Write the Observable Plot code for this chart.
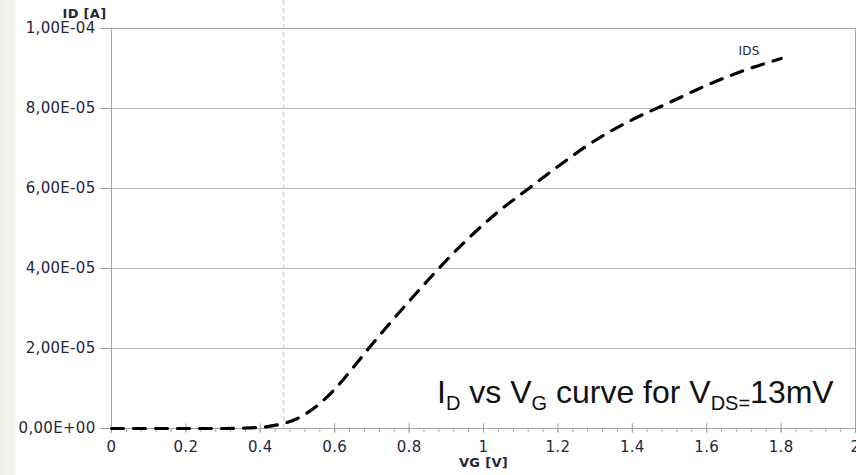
<!DOCTYPE html>
<html><head><meta charset="utf-8">
<script src="https://cdn.jsdelivr.net/npm/d3@7"></script>
<script src="https://cdn.jsdelivr.net/npm/@observablehq/plot@0.6"></script>
<style>
html,body{margin:0;padding:0;}
body{width:856px;height:475px;overflow:hidden;position:relative;background:linear-gradient(to right,#eef1e3 0px,#f5f7ef 15px,#ffffff 16px);}
#chart{position:absolute;left:0;top:0;}
</style></head><body><div id="chart"></div>
<script>
// Gate voltage VG [V]
const vg = [0, 0.1, 0.2, 0.3, 0.35, 0.4, 0.45, 0.5, 0.55, 0.6, 0.65, 0.7, 0.75, 0.8, 0.85, 0.9, 0.95, 1.0, 1.05, 1.1, 1.15, 1.2, 1.3, 1.4, 1.5, 1.6, 1.7, 1.8];
// Drain current ID [A]
const ids = [0, 0, 0, 0, 0.1e-6, 0.3e-6, 1.0e-6, 2.5e-6, 5.5e-6, 9.8e-6, 15.3e-6, 21.0e-6, 26.5e-6, 31.8e-6, 37.0e-6, 42.0e-6, 46.7e-6, 51.0e-6, 55.0e-6, 58.5e-6, 62.0e-6, 65.5e-6, 72.0e-6, 77.2e-6, 81.5e-6, 85.8e-6, 89.5e-6, 92.5e-6];
const seriesName = "IDS";
const thresholdV = 0.463;
const xMajorTicks = [0, 0.2, 0.4, 0.6, 0.8, 1, 1.2, 1.4, 1.6, 1.8, 2];
const xMinorTicks = d3.range(0, 51).map(k => k * 0.04);
const yTicks = [0, 2e-5, 4e-5, 6e-5, 8e-5, 1e-4];
const xTitle = "VG [V]";
const yTitle = "ID [A]";

const data = vg.map((v, k) => ({v, i: ids[k]}));
const fmtY = d => {
  const s = d.toExponential(2).replace(".", ",");
  return s.replace(/e([+-])(\d+)$/, (m, sg, n) => "E" + sg + n.padStart(2, "0"));
};
const textColor = "#1f2738";

const chart = Plot.plot({
  width: 856, height: 475,
  marginLeft: 111, marginRight: 1, marginTop: 28, marginBottom: 47,
  style: "background:transparent;font-family:'DejaVu Sans';letter-spacing:0.3px;color:" + textColor + ";",
  x: {domain: [0, 2]},
  y: {domain: [0, 1e-4]},
  marks: [
    Plot.gridY(yTicks, {stroke: "#b4b4b4", strokeOpacity: 1}),
    Plot.frame({stroke: "#a6a6a6"}),
    Plot.ruleX([thresholdV], {stroke: "#c6c6c6", strokeDasharray: "5,3", insetTop: -28}),
    Plot.axisY(yTicks, {tickSize: 11, tickPadding: 5, tickFormat: fmtY, stroke: "#a0a0a0", fill: textColor, fontSize: 15, label: null}),
    Plot.axisX(xMinorTicks, {tickSize: 4, tickFormat: () => "", stroke: "#a8a8a8", label: null}),
    Plot.axisX(xMajorTicks, {tickSize: 5, dy: -5, tickFormat: () => "", stroke: "#a0a0a0", label: null}),
    Plot.axisX(xMajorTicks, {tickSize: 5, tickPadding: 8, tickFormat: d => String(d), stroke: "#a0a0a0", fill: textColor, fontSize: 15, label: null}),
    Plot.text([yTitle], {text: d => d, frameAnchor: "top-left", dx: -49, dy: -20, fontWeight: "bold", fontSize: 13, fill: textColor}),
    Plot.text([xTitle], {text: d => d, frameAnchor: "bottom", dy: 38, fontWeight: "bold", fontSize: 13, fill: textColor}),
    Plot.line(data, {x: "v", y: "i", stroke: "black", strokeWidth: 3.2, strokeDasharray: "12,10", curve: "monotone-x"}),
    Plot.text(data.slice(-1), {x: "v", y: "i", text: () => seriesName, dx: -32, dy: -7, fontSize: 12, fill: textColor})
  ]
});
document.getElementById("chart").appendChild(chart);

// annotation with subscripts
const svg = d3.select(chart);
const t = svg.append("text")
  .attr("x", 437).attr("y", 403)
  .attr("text-anchor", "start")
  .attr("font-family", "'Liberation Sans', Arial, sans-serif")
  .attr("font-size", 32)
  .attr("fill", "#111")
  .style("letter-spacing", "0px");
const parts = [["I", 0], ["D", 1], [" vs V", 0], ["G", 1], [" curve for V", 0], ["DS=", 1], ["13mV", 0]];
let prev = 0;
for (const [s, sub] of parts) {
  const off = sub ? 7 : 0;
  t.append("tspan").attr("dy", off - prev).attr("font-size", sub ? 20 : 32).text(s);
  prev = off;
}
</script></body></html>
